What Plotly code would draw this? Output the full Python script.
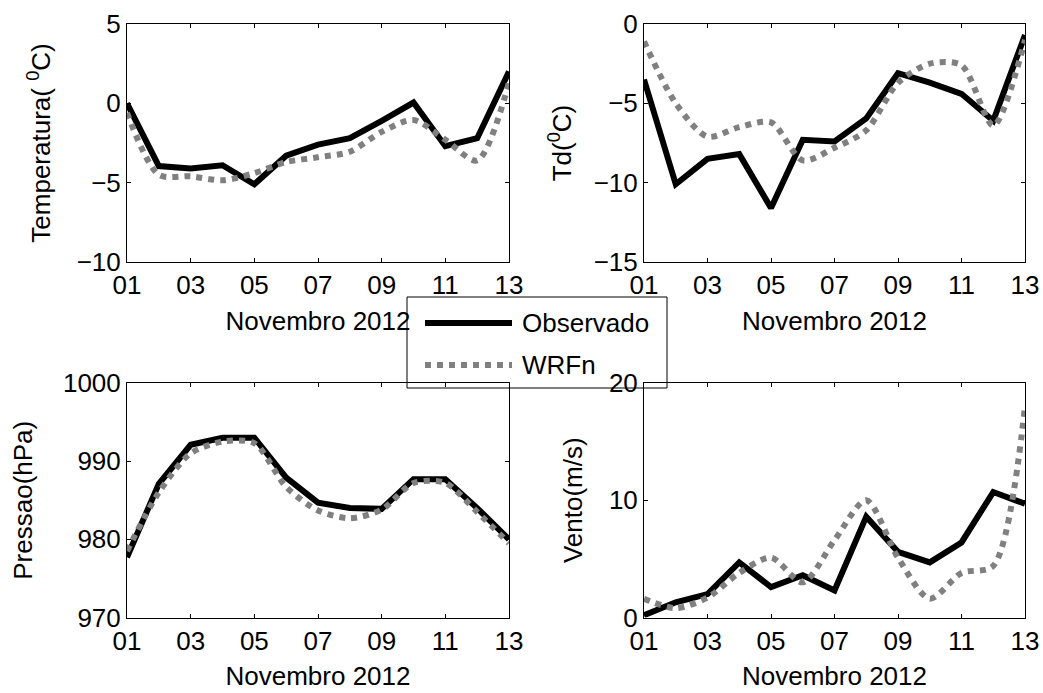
import plotly.graph_objects as go

# ---------------- data ----------------
dias = list(range(1, 14))
tick_vals = [1, 3, 5, 7, 9, 11, 13]
tick_text = ["01", "03", "05", "07", "09", "11", "13"]

temp_obs = [0.0, -3.95, -4.1, -3.9, -5.1, -3.3, -2.6, -2.2, -1.1, 0.05, -2.7, -2.2, 2.0]
temp_wrf = [-0.6, -4.5, -4.6, -4.85, -4.4, -3.7, -3.4, -3.05, -1.8, -1.05, -2.3, -3.6, 1.3]

td_obs = [-3.5, -10.1, -8.5, -8.2, -11.6, -7.3, -7.4, -5.95, -3.1, -3.7, -4.4, -6.1, -0.7]
td_wrf = [-1.1, -5.0, -7.1, -6.5, -6.2, -8.6, -7.8, -6.7, -3.7, -2.5, -2.6, -6.4, -1.0]

pres_obs = [977.7, 987.1, 992.1, 993.0, 993.0, 987.9, 984.7, 984.0, 983.9, 987.7, 987.7, 984.0, 980.0]
pres_wrf = [978.5, 986.0, 991.0, 992.5, 992.3, 986.7, 983.7, 982.7, 983.8, 987.2, 987.2, 983.5, 979.5]

vento_obs = [0.2, 1.3, 2.0, 4.7, 2.6, 3.6, 2.3, 8.6, 5.6, 4.7, 6.4, 10.7, 9.7]
vento_wrf = [1.6, 0.8, 1.7, 3.8, 5.1, 3.0, 6.6, 10.0, 5.1, 1.6, 3.8, 4.4, 18.0]

serie_nomes = ["Observado", "WRFn"]
ylabels = ["Temperatura( <sup>0</sup>C)", "Td(<sup>0</sup>C)", "Pressao(hPa)", "Vento(m/s)"]
xlabel = "Novembro 2012"

FONT = "Liberation Sans, Arial, sans-serif"
FS = 26
BLACK = "#000000"
GRAY = "#808080"

fig = go.Figure()

panels = [
    (temp_obs, temp_wrf, "x", "y"),
    (td_obs, td_wrf, "x2", "y2"),
    (pres_obs, pres_wrf, "x3", "y3"),
    (vento_obs, vento_wrf, "x4", "y4"),
]
for obs, wrf, xa, ya in panels:
    fig.add_trace(go.Scatter(x=dias, y=obs, mode="lines", name=serie_nomes[0],
                             line=dict(color=BLACK, width=6), xaxis=xa, yaxis=ya,
                             showlegend=False))
    fig.add_trace(go.Scatter(x=dias, y=wrf, mode="lines", name=serie_nomes[1],
                             line=dict(color=GRAY, width=6, dash="dot", shape="spline", smoothing=0.8),
                             xaxis=xa, yaxis=ya, showlegend=False))

W, H = 1043, 693
def px_x(v):
    return v / W
def px_y(v):
    return 1 - v / H

xdom_l = [px_x(127), px_x(509)]
xdom_r = [px_x(644), px_x(1025)]
ydom_t = [px_y(262), px_y(24)]
ydom_b = [px_y(617.5), px_y(383)]

common_x = dict(range=[1, 13], tickvals=tick_vals, ticktext=tick_text, showline=True,
                linecolor=BLACK, linewidth=1, mirror="ticks", ticks="inside", ticklen=4,
                tickcolor=BLACK, showgrid=False, zeroline=False, automargin=False,
                tickfont=dict(family=FONT, size=FS, color=BLACK),
                title=dict(text=xlabel, font=dict(family=FONT, size=FS, color=BLACK), standoff=12),
                fixedrange=True)
common_y = dict(showline=True, linecolor=BLACK, linewidth=1, mirror="ticks", ticks="inside",
                ticklen=4, tickcolor=BLACK, showgrid=False, zeroline=False, automargin=False,
                tickfont=dict(family=FONT, size=FS, color=BLACK), fixedrange=True)

fig.update_layout(
    width=W, height=H, margin=dict(l=0, r=0, t=0, b=0),
    paper_bgcolor="white", plot_bgcolor="rgba(0,0,0,0)",
    font=dict(family=FONT, size=FS, color=BLACK),
    xaxis=dict(common_x, domain=xdom_l, anchor="y"),
    yaxis=dict(common_y, domain=ydom_t, anchor="x", range=[-10, 5], tickvals=[-10, -5, 0, 5],
               title=dict(text=ylabels[0], font=dict(family=FONT, size=FS), standoff=18)),
    xaxis2=dict(common_x, domain=xdom_r, anchor="y2"),
    yaxis2=dict(common_y, domain=ydom_t, anchor="x2", range=[-15, 0], tickvals=[-15, -10, -5, 0],
                title=dict(text=ylabels[1], font=dict(family=FONT, size=FS), standoff=14)),
    xaxis3=dict(common_x, domain=xdom_l, anchor="y3"),
    yaxis3=dict(common_y, domain=ydom_b, anchor="x3", range=[970, 1000], tickvals=[970, 980, 990, 1000],
                title=dict(text=ylabels[2], font=dict(family=FONT, size=FS), standoff=22)),
    xaxis4=dict(common_x, domain=xdom_r, anchor="y4"),
    yaxis4=dict(common_y, domain=ydom_b, anchor="x4", range=[0, 20], tickvals=[0, 10, 20],
                title=dict(text=ylabels[3], font=dict(family=FONT, size=FS), standoff=18)),
    showlegend=False,
)

# ---------------- legend box (drawn under the axes, as in the reference) ----------------
leg_x0, leg_x1 = px_x(407), px_x(667)
leg_y0, leg_y1 = px_y(388), px_y(297)
fig.add_shape(type="rect", xref="paper", yref="paper", x0=leg_x0, x1=leg_x1, y0=leg_y0, y1=leg_y1,
              line=dict(color=BLACK, width=1), fillcolor="white", layer="below")
leg_rows = [(px_y(323), BLACK, "solid"), (px_y(365), GRAY, "dot")]
for (yy, col, dsh), nome in zip(leg_rows, serie_nomes):
    fig.add_shape(type="line", xref="paper", yref="paper", x0=px_x(425), x1=px_x(512), y0=yy, y1=yy,
                  line=dict(color=col, width=6, dash=dsh), layer="below")
    fig.add_annotation(xref="paper", yref="paper", x=px_x(520), y=yy, text=nome, showarrow=False,
                       xanchor="left", yanchor="middle", font=dict(family=FONT, size=FS, color=BLACK))

fig.write_html("out.html", config={"displayModeBar": False},
               post_script="document.body.style.margin='0';")
